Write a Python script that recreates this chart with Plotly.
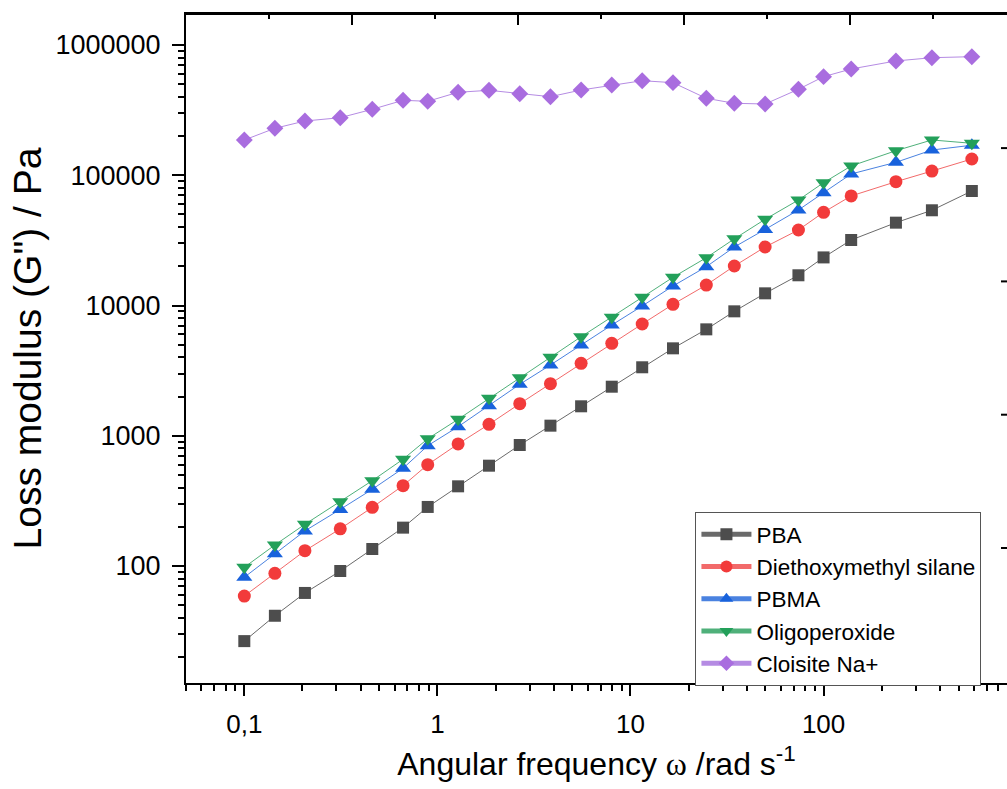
import plotly.graph_objects as go

# ---- data ----
omega = [0.1, 0.144, 0.206, 0.314, 0.46, 0.664, 0.891, 1.28, 1.85, 2.67, 3.85, 5.55,
         8.0, 11.5, 16.6, 24.7, 34.5, 49.8, 74.1, 100, 139, 237, 364, 586]

pba = [26.5, 41.5, 62.1, 91.5, 135, 197, 284, 409, 589, 849, 1195, 1683,
       2380, 3355, 4690, 6560, 9020, 12400, 17060, 23400, 31840, 43250, 53830, 75700]

silane = [58.8, 87.9, 131, 193, 282, 414, 600, 865, 1224, 1762, 2510, 3600,
          5125, 7210, 10210, 14360, 20100, 28130, 38000, 51950, 69350, 89200, 107700, 133300]

pbma = [81.9, 124, 186, 272, 388, 562, 839, 1173, 1702, 2483, 3492, 4975,
        7080, 9910, 14110, 19860, 28130, 38370, 54080, 73450, 102300, 125700, 156200, 170000]

oligo = [97.7, 145, 209, 312, 452, 660, 948, 1337, 1939, 2790, 4000, 5757,
         8110, 11550, 16460, 23280, 32500, 45900, 64560, 87650, 117800, 154300, 186600, 175900]

cloisite = [186500, 229300, 260900, 276700, 320900, 376200, 369600, 433500, 448800, 422700,
            401000, 451300, 493200, 532100, 513800, 389700, 356700, 352400, 457100, 571300,
            654500, 754200, 798900, 813400]

series_names = ["PBA", "Diethoxymethyl silane", "PBMA", "Oligoperoxide", "Cloisite Na+"]
series_values = [pba, silane, pbma, oligo, cloisite]
series_colors = ["#4d4d4d", "#f23b3b", "#1862dc", "#23a05a", "#a96ddf"]
line_colors = ["#6a6a6a", "#f26a6a", "#4a82e0", "#4fb07a", "#b58be3"]
series_symbols = ["square", "circle", "triangle-up", "triangle-down", "diamond"]
series_sizes = [12, 13, 14, 14, 13]

x_tickvals = [0.1, 1, 10, 100]
x_ticktext = ["0,1", "1", "10", "100"]
y_tickvals = [100, 1000, 10000, 100000, 1000000]
y_ticktext = ["100", "1000", "10000", "100000", "1000000"]

FONT = "Liberation Sans, Arial, sans-serif"

# plot-area geometry (pixels)
PLOT_L, PLOT_T, PLOT_W, PLOT_H = 186, 14, 821, 669

fig = go.Figure()
for name, vals, col, lcol, sym, sz in zip(series_names, series_values, series_colors,
                                         line_colors, series_symbols, series_sizes):
    fig.add_trace(go.Scatter(
        x=omega, y=vals, name=name, mode="lines+markers",
        line=dict(color=lcol, width=1),
        marker=dict(symbol=sym, size=sz, color=col, line=dict(width=0)),
    ))

minor_x = [m * 10 ** k for k in range(-2, 3) for m in range(2, 10)]
minor_y = [m * 10 ** k for k in range(1, 7) for m in range(2, 10)]

# decorative frame: top border with its own tick marks, right-hand tick marks
shapes = [dict(type="rect", xref="paper", yref="paper", layer="above",
               x0=0, x1=1, y0=1 - 1 / PLOT_H, y1=1 + 2 / PLOT_H,
               fillcolor="black", line=dict(width=0))]
top_step = 83.0 / PLOT_W
for k in range(1, 10):
    tl = 11 if k % 2 == 0 else 5
    shapes.append(dict(type="line", xref="paper", yref="paper", layer="above",
                       x0=k * top_step, x1=k * top_step, y0=1, y1=1 - tl / PLOT_H,
                       line=dict(color="black", width=2)))
for k in range(1, 5):
    yy = (135.0 + (k - 1) * 133.3) / PLOT_H
    shapes.append(dict(type="line", xref="paper", yref="paper", layer="above",
                       x0=1 - 6 / PLOT_W, x1=1, y0=yy, y1=yy,
                       line=dict(color="black", width=2)))

fig.update_layout(
    width=1007, height=789,
    margin=dict(l=PLOT_L, r=1007 - PLOT_L - PLOT_W, t=PLOT_T, b=789 - PLOT_T - PLOT_H),
    paper_bgcolor="white", plot_bgcolor="white",
    font=dict(family=FONT, color="black"),
    showlegend=True,
    shapes=shapes,
    legend=dict(
        x=0.6205, y=0.2555, xanchor="left", yanchor="top",
        bgcolor="white", bordercolor="#555555", borderwidth=1,
        font=dict(family=FONT, size=22.5, color="black"),
        tracegroupgap=0, itemsizing="constant", itemwidth=50,
    ),
    xaxis=dict(
        type="log", range=[-1.302, 2.950], automargin=False,
        showline=True, linewidth=2, linecolor="black", mirror=True,
        ticks="outside", ticklen=11, tickwidth=2, tickcolor="black",
        tickvals=x_tickvals, ticktext=x_ticktext,
        tickfont=dict(family=FONT, size=26),
        ticklabelstandoff=6,
        minor=dict(tickvals=minor_x, ticks="outside", ticklen=6, tickwidth=1.5,
                   tickcolor="black", showgrid=False),
        showgrid=False, zeroline=False,
        title=dict(text="Angular frequency <span style=\"font-family:'Liberation Serif'\">ω</span> /rad s<sup>-1</sup>",
                   font=dict(family=FONT, size=32), standoff=14),
    ),
    yaxis=dict(
        type="log", range=[1.1017, 6.238], automargin=False,
        showline=True, linewidth=2, linecolor="black", mirror=False,
        ticks="outside", ticklen=12, tickwidth=2, tickcolor="black",
        tickvals=y_tickvals, ticktext=y_ticktext,
        tickfont=dict(family=FONT, size=27),
        ticklabelstandoff=6,
        minor=dict(tickvals=minor_y, ticks="outside", ticklen=6, tickwidth=1.5,
                   tickcolor="black", showgrid=False),
        showgrid=False, zeroline=False,
        title=dict(text="Loss modulus (G\") / Pa", font=dict(family=FONT, size=39), standoff=2),
    ),
)

fig.write_html("out.html", config={"displayModeBar": False},
               post_script="document.body.style.margin='0';")
